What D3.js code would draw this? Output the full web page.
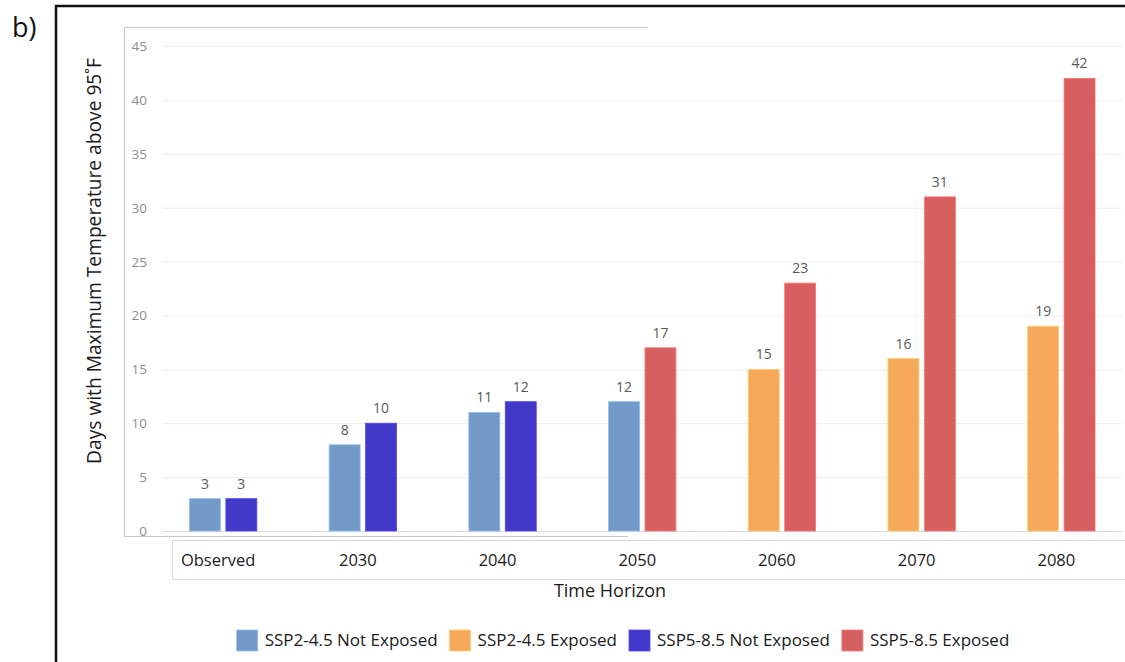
<!DOCTYPE html>
<html>
<head>
<meta charset="utf-8">
<script src="https://cdn.jsdelivr.net/npm/d3@7"></script>
<style>
  html, body { margin: 0; padding: 0; background: #fff; }
  svg { display: block; font-family: "Open Sans", "Noto Sans", sans-serif; }
</style>
</head>
<body>
<svg id="chart" width="1125" height="662"></svg>
<script>
// ---- data ----
var categories = ['Observed', '2030', '2040', '2050', '2060', '2070', '2080'];
var ssp245 = [3, 8, 11, 12, 15, 16, 19];
var ssp585 = [3, 10, 12, 17, 23, 31, 42];
// is the category "exposed" for each scenario
var ssp245Exposed = [false, false, false, false, true, true, true];
var ssp585Exposed = [false, false, false, true, true, true, true];
var yTicks = [0, 5, 10, 15, 20, 25, 30, 35, 40, 45];
var legendLabels = ['SSP2-4.5 Not Exposed', 'SSP2-4.5 Exposed', 'SSP5-8.5 Not Exposed', 'SSP5-8.5 Exposed'];
var legendColors = ['#7399c6', '#f6a95a', '#4339c9', '#d65f5f'];

var svg = d3.select('#chart');

// outer black frame (left + top)
svg.append('path')
    .attr('d', 'M56,662 V6 H1125')
    .attr('fill', 'none')
    .attr('stroke', '#111')
    .attr('stroke-width', 2.5);

svg.append('text')
    .attr('x', 12).attr('y', 37)
    .attr('font-size', 27)
    .attr('fill', '#111')
    .text('b)');

// inner light frame of the plot area
svg.append('path')
    .attr('d', 'M648,27.5 H124.5 V536.5 H628')
    .attr('fill', 'none')
    .attr('stroke', '#c8c8c8')
    .attr('stroke-width', 1);

// category label box
svg.append('path')
    .attr('d', 'M1125,540.5 H172.5 V579.5 H1125')
    .attr('fill', 'none')
    .attr('stroke', '#d9d9d9')
    .attr('stroke-width', 1);

// ---- scales ----
var x = d3.scaleBand().domain(categories).range([153.3, 1131.2]);
var xSub = d3.scaleBand().domain([0, 1]).range([-33.7, 33.7]).paddingInner(0.15);
var y = d3.scaleLinear().domain([0, 45]).range([531, 46]);

function cx(c) { return x(c) + x.bandwidth() / 2; }

// grid
var grid = svg.append('g');
grid.selectAll('line').data(yTicks).enter().append('line')
    .attr('x1', 162).attr('x2', 1122)
    .attr('y1', function(d) { return y(d) + 0.5; })
    .attr('y2', function(d) { return y(d) + 0.5; })
    .attr('stroke', function(d) { return d === 0 ? '#d9d9d9' : '#ececec'; })
    .attr('stroke-width', 1);

// y axis labels
svg.append('g').selectAll('text').data(yTicks).enter().append('text')
    .attr('x', 147)
    .attr('y', function(d) { return y(d) + 5; })
    .attr('text-anchor', 'end')
    .attr('font-size', 13.5)
    .attr('fill', '#8c8c8c')
    .text(function(d) { return d; });

// bars
var bars = [];
categories.forEach(function(c, i) {
    bars.push({ cat: c, k: 0, v: ssp245[i], color: ssp245Exposed[i] ? legendColors[1] : legendColors[0] });
    bars.push({ cat: c, k: 1, v: ssp585[i], color: ssp585Exposed[i] ? legendColors[3] : legendColors[2] });
});

svg.append('g').selectAll('rect').data(bars).enter().append('rect')
    .attr('x', function(d) { return cx(d.cat) + xSub(d.k); })
    .attr('y', function(d) { return y(d.v); })
    .attr('width', xSub.bandwidth())
    .attr('height', function(d) { return y(0) - y(d.v); })
    .attr('fill', function(d) { return d.color; })
    .attr('stroke', function(d) { return d3.color(d.color).brighter(0.6); })
    .attr('stroke-width', 0.8);

// value labels
svg.append('g').selectAll('text').data(bars).enter().append('text')
    .attr('x', function(d) { return cx(d.cat) + xSub(d.k) + xSub.bandwidth() / 2; })
    .attr('y', function(d) { return y(d.v) - 10; })
    .attr('text-anchor', 'middle')
    .attr('font-size', 14)
    .attr('fill', '#595959')
    .text(function(d) { return d.v; });

// category labels (box is shifted slightly left of the bars)
svg.append('g').selectAll('text').data(categories).enter().append('text')
    .attr('x', function(d) { return cx(d) - 5; })
    .attr('y', 566)
    .attr('text-anchor', 'middle')
    .attr('font-size', 16.5)
    .attr('fill', '#1a1a1a')
    .text(function(d) { return d; });

// axis titles
svg.append('text')
    .attr('x', 610).attr('y', 597)
    .attr('text-anchor', 'middle')
    .attr('font-size', 18)
    .attr('fill', '#1a1a1a')
    .text('Time Horizon');

svg.append('text')
    .attr('transform', 'translate(101,261) rotate(-90)')
    .attr('text-anchor', 'middle')
    .attr('font-size', 19.2)
    .attr('fill', '#1a1a1a')
    .text('Days with Maximum Temperature above 95\u02DAF');

// legend
var legend = svg.append('g');
var lx = 0;
legendLabels.forEach(function(lbl, i) {
    var item = legend.append('g').attr('transform', 'translate(' + lx + ',0)');
    item.append('rect')
        .attr('x', 0).attr('y', 630)
        .attr('width', 21).attr('height', 21)
        .attr('fill', legendColors[i])
        .attr('stroke', d3.color(legendColors[i]).brighter(0.6))
        .attr('stroke-width', 0.8);
    var t = item.append('text')
        .attr('x', 28).attr('y', 646)
        .attr('font-size', 17)
        .attr('fill', '#1a1a1a')
        .text(lbl);
    lx += 28 + t.node().getComputedTextLength() + 12;
});
var legendW = lx - 12;
legend.attr('transform', 'translate(' + (623 - legendW / 2) + ',0)');
</script>
</body>
</html>
